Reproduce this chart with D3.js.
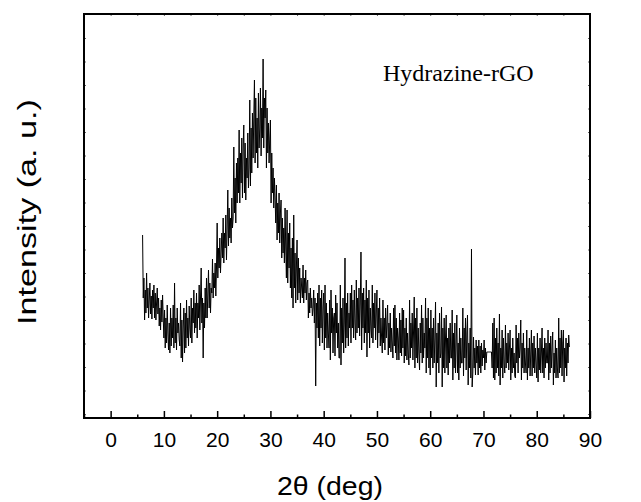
<!DOCTYPE html>
<html>
<head>
<meta charset="utf-8">
<script src="https://cdn.jsdelivr.net/npm/d3@7/dist/d3.min.js"></script>
<style>
    html, body { margin: 0; padding: 0; background: #fff; }
    svg { display: block; }
</style>
</head>
<body>
<div id="chart"></div>
<script>
// scan: start angle and step (2θ, deg)
const scanStart = 6;
const scanStep = 0.125;
// intensity, 8 points per degree
const counts = [
    183, 120, 140, 98, 128, 105, 145, 110,    // 6
    130, 100, 118, 135, 104, 122, 99, 128,
    110, 133, 100, 125, 98, 115, 130, 104,
    120, 92, 110, 88, 118, 96, 123, 100,
    80, 108, 70, 100, 75, 113, 85, 68,        // 10
    95, 65, 110, 72, 100, 80, 113, 70,
    135, 75, 100, 68, 110, 85, 95, 78,
    72, 115, 60, 98, 56, 90, 110, 65,
    105, 70, 118, 80, 100, 72, 112, 90,
    80, 120, 75, 110, 95, 128, 85, 115,       // 15
    90, 125, 80, 115, 100, 133, 88, 120,
    150, 95, 120, 60, 115, 90, 130, 100,
    140, 100, 125, 148, 110, 135, 105, 130,
    125, 159, 120, 145, 130, 155, 122, 150,
    195, 140, 170, 150, 180, 145, 165, 185,   // 20
    160, 200, 155, 185, 170, 203, 158, 190,
    228, 172, 210, 180, 200, 175, 220, 190,
    200, 271, 205, 240, 195, 255, 215, 260,
    225, 288, 215, 265, 235, 280, 220, 270,
    293, 225, 275, 218, 260, 240, 285, 230,   // 25
    250, 318, 232, 290, 245, 305, 260, 300,
    338, 255, 320, 265, 300, 250, 325, 270,
    290, 330, 262, 310, 280, 359, 270, 320,
    300, 328, 250, 310, 265, 295, 255, 280,
    298, 215, 265, 225, 250, 210, 240, 220,   // 30
    195, 233, 178, 215, 185, 225, 175, 205,
    218, 160, 200, 165, 190, 155, 210, 170,
    140, 208, 135, 185, 150, 195, 130, 170,
    120, 180, 110, 203, 130, 165, 115, 150,
    178, 118, 160, 125, 150, 115, 140, 130,   // 35
    120, 153, 115, 140, 125, 148, 118, 135,
    138, 100, 125, 105, 130, 110, 120, 102,
    110, 128, 95, 120, 32, 115, 90, 125,
    80, 133, 72, 120, 90, 128, 75, 110,
    125, 68, 133, 80, 115, 70, 105, 85,       // 40
    70, 118, 58, 128, 85, 110, 65, 100,
    105, 62, 123, 85, 115, 70, 95, 60,
    60, 133, 53, 110, 75, 120, 65, 95,
    160, 70, 115, 80, 125, 72, 105, 90,
    125, 75, 133, 90, 118, 80, 128, 95,       // 45
    78, 138, 85, 120, 90, 130, 82, 115,
    166, 68, 125, 90, 130, 75, 118, 85,
    138, 61, 120, 85, 128, 70, 110, 90,
    80, 133, 75, 115, 90, 125, 78, 105,
    128, 70, 110, 85, 120, 72, 100, 80,       // 50
    65, 118, 75, 100, 68, 110, 80, 95,
    113, 63, 95, 70, 105, 66, 90, 75,
    60, 110, 72, 113, 65, 100, 58, 90,
    80, 58, 105, 65, 98, 62, 110, 70,
    108, 55, 90, 62, 100, 58, 85, 65,         // 55
    53, 118, 60, 95, 70, 105, 58, 88,
    121, 50, 100, 60, 110, 55, 90, 65,
    48, 95, 65, 113, 55, 100, 60, 85,
    70, 120, 45, 100, 60, 110, 50, 90,
    43, 108, 60, 90, 50, 100, 55, 80,         // 60
    116, 31, 85, 55, 95, 45, 105, 60,
    65, 111, 31, 90, 50, 100, 45, 80,
    103, 50, 80, 43, 90, 55, 95, 60,
    60, 108, 38, 85, 50, 95, 45, 75,
    103, 45, 75, 38, 90, 50, 80, 55,          // 65
    55, 110, 42, 90, 60, 100, 48, 85,
    103, 33, 75, 50, 90, 40, 169, 31,
    45, 81, 50, 70, 43, 78, 55, 72,
    43, 78, 50, 72, 45, 75, 52, 68,
    60, 78, 48, 70, 55, 66, 66, 66,           // 70
    66, 66, 66, 66, 66, 50, 95, 40,
    100, 38, 80, 45, 90, 50, 75, 42,
    104, 33, 70, 50, 88, 40, 80, 55,
    45, 93, 50, 75, 55, 85, 48, 70,
    88, 38, 70, 45, 80, 50, 65, 42,           // 75
    40, 93, 55, 80, 45, 85, 60, 70,
    98, 38, 75, 50, 85, 45, 70, 55,
    45, 88, 38, 70, 50, 80, 42, 65,
    88, 42, 75, 50, 82, 45, 70, 55,
    40, 85, 36, 70, 48, 80, 45, 65,           // 80
    90, 45, 70, 40, 80, 50, 75, 55,
    55, 88, 38, 75, 45, 82, 50, 70,
    86, 33, 65, 45, 78, 40, 70, 50,
    40, 100, 45, 80, 50, 88, 42, 75,
    88, 36, 70, 50, 80, 42, 75, 55,           // 85
    83, 71
];
const xMajorTicks = [0, 10, 20, 30, 40, 50, 60, 70, 80, 90];
const xMinorTicks = [-5, 5, 15, 25, 35, 45, 55, 65, 75, 85];
const sampleLabel = 'Hydrazine-rGO';
const xTitle = '2\u03b8 (deg)';
const yTitle = 'Intensity (a. u.)';

let width = 641;
let height = 502;
let margin = {left: 84, top: 14, right: 51, bottom: 84};
let gW = width - margin.left - margin.right;
let gH = height - margin.top - margin.bottom;

let svg = d3.select('#chart').append('svg')
    .attr('width', width)
    .attr('height', height);

let x = d3.scaleLinear().domain([-5, 90]).range([0, gW]);
let y = d3.scaleLinear().domain([0, 404]).range([gH, 0]);

let g = svg.append('g').attr('transform', 'translate(' + margin.left + ',' + margin.top + ')');

//bottom axis, ticks pointing inward
let bottomAxis = g.append('g')
    .attr('transform', 'translate(0,' + gH + ')')
    .call(d3.axisBottom(x).tickValues(xMajorTicks).tickSizeInner(-7).tickSizeOuter(0).tickPadding(14));
bottomAxis.select('.domain').remove();
bottomAxis.selectAll('line').attr('stroke', '#000').attr('stroke-width', 1.5);
bottomAxis.selectAll('text')
    .attr('font-family', 'Liberation Sans, Arial, sans-serif')
    .attr('font-size', 21)
    .attr('fill', '#000');

let bottomMinor = g.append('g')
    .attr('transform', 'translate(0,' + gH + ')')
    .call(d3.axisBottom(x).tickValues(xMinorTicks).tickSizeInner(-3.5).tickSizeOuter(0).tickFormat(''));
bottomMinor.select('.domain').remove();
bottomMinor.selectAll('line').attr('stroke', '#000').attr('stroke-width', 1.5);

//top axis, small ticks only
let topAxis = g.append('g')
    .call(d3.axisTop(x).tickValues(xMajorTicks.concat(xMinorTicks)).tickSizeInner(-2).tickSizeOuter(0).tickFormat(''));
topAxis.select('.domain').remove();
topAxis.selectAll('line').attr('stroke', '#666');

//left / right axes, small ticks only
let yTicks = d3.range(380, 0, -23.5);
let leftAxis = g.append('g')
    .call(d3.axisLeft(y).tickValues(yTicks).tickSizeInner(-2).tickSizeOuter(0).tickFormat(''));
leftAxis.select('.domain').remove();
leftAxis.selectAll('line').attr('stroke', '#666');
let rightAxis = g.append('g')
    .attr('transform', 'translate(' + gW + ',0)')
    .call(d3.axisRight(y).tickValues(yTicks).tickSizeInner(-2).tickSizeOuter(0).tickFormat(''));
rightAxis.select('.domain').remove();
rightAxis.selectAll('line').attr('stroke', '#666');

//the scan
let line = d3.line()
    .x(function (d, i) {
        return x(scanStart + i * scanStep)
    })
    .y(function (d) {
        return y(d)
    });
g.append('path')
    .datum(counts)
    .attr('d', line)
    .attr('fill', 'none')
    .attr('stroke', '#000')
    .attr('stroke-width', 1)
    .attr('stroke-linejoin', 'miter');

//frame
g.append('rect')
    .attr('width', gW)
    .attr('height', gH)
    .attr('fill', 'none')
    .attr('stroke', '#000')
    .attr('stroke-width', 2);

//sample label
g.append('text')
    .attr('x', 299)
    .attr('y', 67)
    .attr('font-family', 'Liberation Serif, Times New Roman, serif')
    .attr('font-size', 24)
    .text(sampleLabel);

//axis titles
svg.append('text')
    .attr('x', margin.left + gW / 2 - 7)
    .attr('y', 495)
    .attr('text-anchor', 'middle')
    .attr('font-family', 'Liberation Sans, Arial, sans-serif')
    .attr('font-size', 26)
    .attr('textLength', 106)
    .attr('lengthAdjust', 'spacingAndGlyphs')
    .text(xTitle);

svg.append('text')
    .attr('transform', 'translate(36,' + (margin.top + gH / 2 - 4) + ') rotate(-90)')
    .attr('text-anchor', 'middle')
    .attr('font-family', 'Liberation Sans, Arial, sans-serif')
    .attr('font-size', 26)
    .attr('textLength', 226)
    .attr('lengthAdjust', 'spacingAndGlyphs')
    .text(yTitle);
</script>
</body>
</html>
